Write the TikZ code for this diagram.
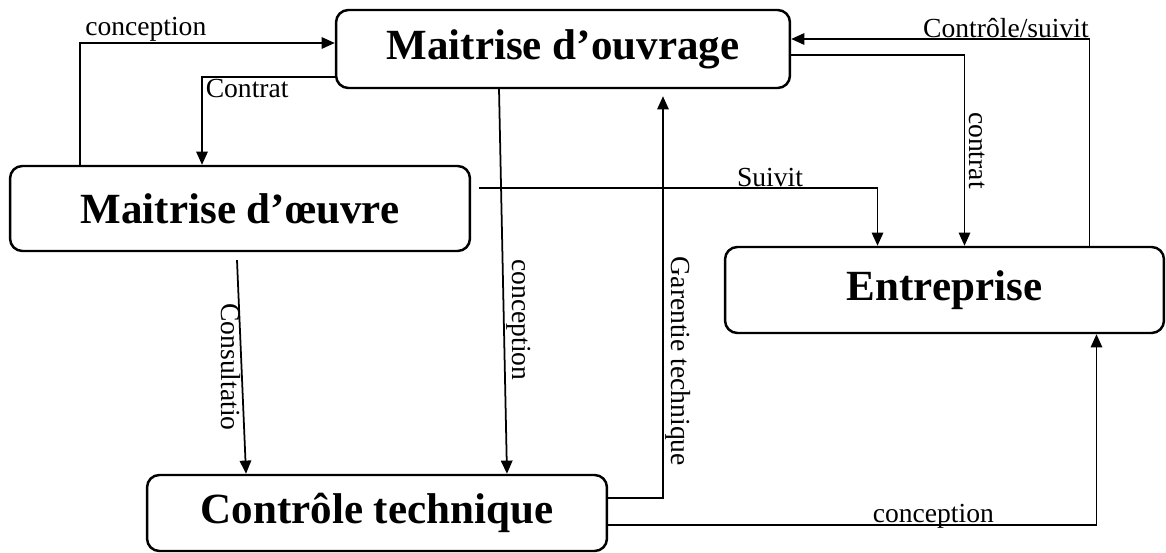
\documentclass[tikz,border=0pt]{standalone}
\usepackage{fontspec}
\setmainfont{Liberation Serif}
\usetikzlibrary{arrows.meta,calc}
\begin{document}
\begin{tikzpicture}[x=0.02cm,y=-0.02cm,
  box/.style={draw,line width=1.4pt,rounded corners=7pt,font=\fontsize{24.5}{28}\selectfont\bfseries,inner sep=0pt},
  arr/.style={line width=1pt,-{Triangle[length=7.5pt,width=6.5pt]}},
  lbl/.style={font=\fontsize{15.7}{18}\selectfont,inner sep=1pt}]
\useasboundingbox (0,0) rectangle (1166,553);
% boxes
\node[box,minimum width=9.08cm,minimum height=1.56cm] (MO) at (563,49) {Maitrise d’ouvrage};
\node[box,minimum width=9.2cm,minimum height=1.7cm] (MOE) at (240,208.5) {Maitrise d’œuvre};
\node[box,minimum width=8.78cm,minimum height=1.72cm] (ENT) at (944.5,290) {Entreprise};
\node[box,minimum width=9.2cm,minimum height=1.52cm] (CT) at (377,513) {Contrôle technique};
% connectors
\draw[arr] ([xshift=-3.2cm]MOE.north) |- ([yshift=0.12cm]MO.west)
  node[lbl,pos=0.629,anchor=base,yshift=4.5pt] {conception};
\draw[arr] ([yshift=-0.56cm]MO.west) -| ([xshift=-0.76cm]MOE.north)
  node[lbl,pos=0.33,anchor=north] {Contrat};
\draw[arr] ([xshift=-1.28cm]MO.south) -- ([xshift=2.6cm]CT.north)
  node[lbl,pos=0.6,anchor=south,rotate=-90] {conception};
\draw[arr] ([yshift=0.3cm]CT.east) -| ([xshift=2cm,yshift=-0.14cm]MO.south)
  node[lbl,pos=0.67,anchor=south,rotate=-90] {Garentie technique};
\draw[arr] ([yshift=-0.12cm]MO.east) -| ([xshift=0.4cm]ENT.north)
  node[lbl,pos=0.75,anchor=south,rotate=-90,inner sep=2pt] {contrat};
\draw[arr] ([xshift=2.9cm]ENT.north) |- ([yshift=0.2cm]MO.east)
  node[lbl,pos=0.64,anchor=base,yshift=1pt] {Contrôle/suivit};
\draw[arr] ([xshift=0.16cm,yshift=0.41cm]MOE.east) -| ([xshift=-1.34cm]ENT.north)
  node[lbl,pos=0.365,anchor=base,yshift=1pt] {Suivit};
\draw[arr] ([xshift=-0.06cm,yshift=-0.16cm]MOE.south) -- ([xshift=-2.62cm]CT.north)
  node[lbl,pos=0.5,anchor=north,rotate=-90,inner sep=0pt] {Consultatio};
\draw[arr] ([yshift=-0.24cm]CT.east) -| ([xshift=3.04cm]ENT.south)
  node[lbl,pos=0.333,anchor=base,yshift=1.5pt] {conception};
\end{tikzpicture}
\end{document}
